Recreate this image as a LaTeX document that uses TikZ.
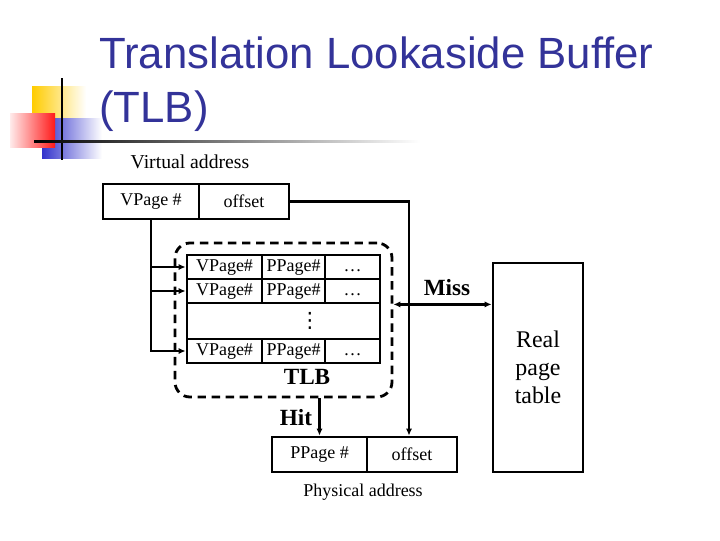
\documentclass[tikz,border=0pt]{standalone}
\usepackage{fontspec}
\setmainfont{Liberation Serif}
\newfontfamily\titlefont{Liberation Sans}
\newfontfamily\symfont{DejaVu Sans}
\usetikzlibrary{arrows.meta,positioning}
\definecolor{titleblue}{RGB}{51,51,153}
\definecolor{logoyellow}{RGB}{255,204,0}
\definecolor{logoblue}{RGB}{51,51,204}
\newlength\unitpx
\setlength\unitpx{0.025cm}
\begin{document}
\begin{tikzpicture}[x=0.025cm, y=-0.025cm,
    cell/.style={draw, line width=2pt, inner sep=0pt, minimum height=35\unitpx, font=\fontsize{12.8}{15}\selectfont},
    entry/.style={draw, line width=2pt, inner sep=0pt, minimum height=24\unitpx, text height=8.5pt, text depth=2.5pt, font=\fontsize{12.8}{15}\selectfont},
    biglabel/.style={inner sep=0pt, font=\fontsize{17}{20}\selectfont, align=center},
    boldlabel/.style={inner sep=0pt, font=\fontsize{16.5}{20}\selectfont\bfseries},
    smalllabel/.style={inner sep=0pt, font=\fontsize{12.8}{15}\selectfont},
    link/.style={line width=2pt, -{Latex[length=5pt,width=4.5pt]}}]
  \useasboundingbox (0,0) rectangle (720,540);
  % --- logo ---
  \shade[left color=logoyellow, middle color=logoyellow!85, right color=white] (32,86) rectangle (86,134);
  \shade[left color=logoblue, middle color=logoblue!75, right color=white] (42,118) rectangle (102,158);
  \shade[left color=red!8, right color=red!90] (10,113) rectangle (55,147);
  \draw[line width=1.5pt] (62,78) -- (62,160);
  \shade[left color=black, middle color=black!55, right color=white] (34,140) rectangle (420,142.5);
  % --- title ---
  \node[anchor=base west, inner sep=0pt, text=titleblue, font=\titlefont\fontsize{31.1}{38}\selectfont] (title1) at (99,68) {Translation Lookaside Buffer};
  \node[anchor=base west, inner sep=0pt, text=titleblue, font=\titlefont\fontsize{31.1}{38}\selectfont] (title2) at (99,122) {(TLB)};
  % --- virtual address ---
  \node[inner sep=0pt, font=\fontsize{14}{16}\selectfont] (vaddr) at (190,162) {Virtual address};
  \node[cell, minimum width=96\unitpx] (vpn) at (151,201.5) {VPage \#};
  \node[cell, minimum width=90\unitpx] (voff) at (244,201.5) {offset};
  % --- TLB entries ---
  \foreach \r/\y in {1/267, 2/291, 4/351} {
    \node[entry, minimum width=75\unitpx] (r\r a) at (224.5,\y) {VPage\#};
    \node[entry, minimum width=63\unitpx] (r\r b) at (293.5,\y) {PPage\#};
    \node[entry, minimum width=55\unitpx] (r\r c) at (352.5,\y) {\dots};
  }
  \node[draw, line width=2pt, inner sep=0pt, minimum width=193\unitpx, minimum height=36\unitpx] (gap) at (283.5,321) {};
  \node[inner sep=0pt, font=\symfont\fontsize{15}{18}\selectfont] (vdots) at (310,321) {⋮};
  \node[draw, dashed, dash pattern=on 6pt off 4pt, line width=2pt, rounded corners=15\unitpx, minimum width=217\unitpx, minimum height=154\unitpx] (tlbbox) at (283.5,320) {};
  \node[boldlabel] (tlblbl) at (307,377) {TLB};
  % --- real page table ---
  \node[draw, line width=2pt, minimum width=90\unitpx, minimum height=209\unitpx, biglabel] (rpt) at (538,367.5) {Real\\page\\table};
  % --- physical address ---
  \node[cell, minimum width=95\unitpx] (ppn) at (319.5,454.5) {PPage \#};
  \node[cell, minimum width=90\unitpx] (poff) at (412,454.5) {offset};
  \node[smalllabel] (paddr) at (363,492) {Physical address};
  % --- connectors ---
  \foreach \r in {1,2,4}
    \draw[link] (vpn.south) |- (r\r a.west);
  \draw[link] (voff.east) -| ([xshift=-3\unitpx]poff.north);
  \draw[link] (ppn.north |- tlbbox.south) -- (ppn.north);
  \node[boldlabel] (hitlbl) at (296,418) {Hit};
  \draw[line width=2pt, {Latex[length=5pt,width=4.5pt]}-{Latex[length=5pt,width=4.5pt]}] (tlbbox.east |- r2c.south) -- (rpt.west |- r2c.south);
  \node[boldlabel] (misslbl) at (447,288) {Miss};
\end{tikzpicture}
\end{document}
